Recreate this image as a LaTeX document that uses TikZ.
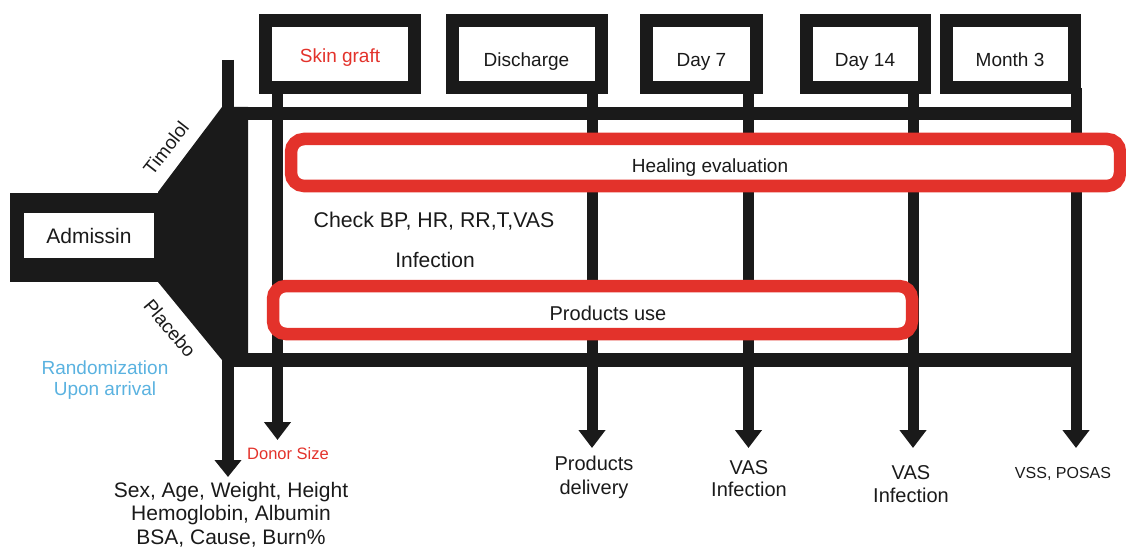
\documentclass[tikz,border=0pt]{standalone}
\usepackage{fontspec}
\setmainfont{Liberation Sans}
\usetikzlibrary{arrows.meta}
\definecolor{ink}{HTML}{1A1A1A}
\definecolor{rd}{HTML}{E3322B}
\definecolor{bl}{HTML}{5AB2E0}
\begin{document}
\begin{tikzpicture}[x=1pt,y=-1pt,
  every node/.style={inner sep=0pt, outer sep=0pt, text=ink},
  frame/.style={draw=ink, line width=13pt, fill=white, text depth=0pt, minimum height=67.5pt, font=\fontsize{19}{23}\selectfont},
  redbox/.style={draw=rd, line width=12.5pt, fill=white, rounded corners=13pt, text depth=0pt},
  conn/.style={draw=ink, line width=11pt, -{Triangle[width=26pt,length=18pt]}},
  bar/.style={draw=ink, line width=13.5pt},
  lbl/.style={anchor=base, align=center},
  f16/.style={font=\fontsize{16.5}{20}\selectfont},
  f19/.style={font=\fontsize{19}{21}\selectfont},
  f20/.style={font=\fontsize{20}{24}\selectfont},
  f21/.style={font=\fontsize{21}{23.5}\selectfont}
]
\useasboundingbox (0,0) rectangle (1126,548);

% horizontal bars
\coordinate (tbl) at (222,113.5);
\coordinate (tbr) at (1082,113.5);
\coordinate (bbl) at (222,360);
\coordinate (bbr) at (1082,360);
\draw[bar] (tbl) -- (tbr);
\draw[bar, line width=14pt] (bbl) -- (bbr);

% top time-point boxes
\node[frame, minimum width=149pt, text height=17.5pt, text=rd] (skin) at (340,54.25) {Skin graft};
\node[frame, minimum width=149pt, text height=25.5pt] (dis) at (526.5,54.25) {Discharge};
\node[frame, minimum width=110pt, text height=25.5pt] (d7) at (701.5,54.25) {Day 7};
\node[frame, minimum width=118pt, text height=25.5pt] (d14) at (865,54.25) {Day 14};
\node[frame, minimum width=128pt, text height=25.5pt] (m3) at (1010,54.25) {Month 3};

% arrow tips
\coordinate (tskin) at (277.5,440);
\coordinate (tdis) at (592,448);
\coordinate (td7) at (748.5,448);
\coordinate (td14) at (913,448);
\coordinate (tm3) at (1076,448);
\coordinate (ltop) at (228,60);
\coordinate (ltip) at (228,477);

\draw[conn] (skin.south -| tskin) -- (tskin);
\draw[conn] (dis.south -| tdis) -- (tdis);
\draw[conn] (d7.south -| td7) -- (td7);
\draw[conn] (d14.south -| td14) -- (td14);
\draw[conn] (m3.south -| tm3) -- (tm3);
\draw[conn, line width=11.5pt, -{Triangle[width=26pt,length=17pt]}] (ltop) -- (ltip);

% admission box and funnel
\fill[ink] (10,193) rectangle (158,282);
\fill[ink] (158,192) -- (222,107) -- (248,107) -- (248,360) -- (222,360) -- (158,282) -- cycle;
\node[fill=white, minimum width=130pt, minimum height=45pt, text height=15pt, text depth=0pt, f21] (adm) at (89,235.5) {Admissin};

\node[rotate=52, f19] (timolol) at (166,148) {Timolol};
\node[rotate=-50, f19] (placebo) at (170,328) {Placebo};

% red boxes
\node[redbox, minimum width=829pt, minimum height=47pt, text height=19pt, font=\fontsize{19}{23}\selectfont] (heal) at (705.5,162.5) {\hspace*{9pt}Healing evaluation};
\node[redbox, minimum width=639pt, minimum height=48pt, text height=20pt, f20] (prod) at (592.5,310) {\hspace*{31pt}Products use};

% texts
\node[lbl, font=\fontsize{21.3}{24}\selectfont] (check) at (434,227) {Check BP, HR, RR,T,VAS};
\node[lbl, f21] (inf) at (435,267) {Infection};
\node[lbl, f19, text=bl] (rand) at (105,395) {Randomization\\Upon arrival};
\node[lbl, f16, text=rd] (donor) at (288,459) {Donor Size};
\node[lbl, f21] (base) at (231,544) {Sex, Age, Weight, Height\\Hemoglobin, Albumin\\BSA, Cause, Burn\%};
\node[lbl, f20] (pdel) at (594,494) {Products\\delivery};
\node[lbl, font=\fontsize{20}{22}\selectfont] (vas7) at (749,496) {VAS\\Infection};
\node[lbl, font=\fontsize{20}{23}\selectfont] (vas14) at (911,502) {VAS\\Infection};
\node[lbl, font=\fontsize{16}{20}\selectfont] (vss) at (1063,478) {VSS, POSAS};
\end{tikzpicture}
\end{document}
